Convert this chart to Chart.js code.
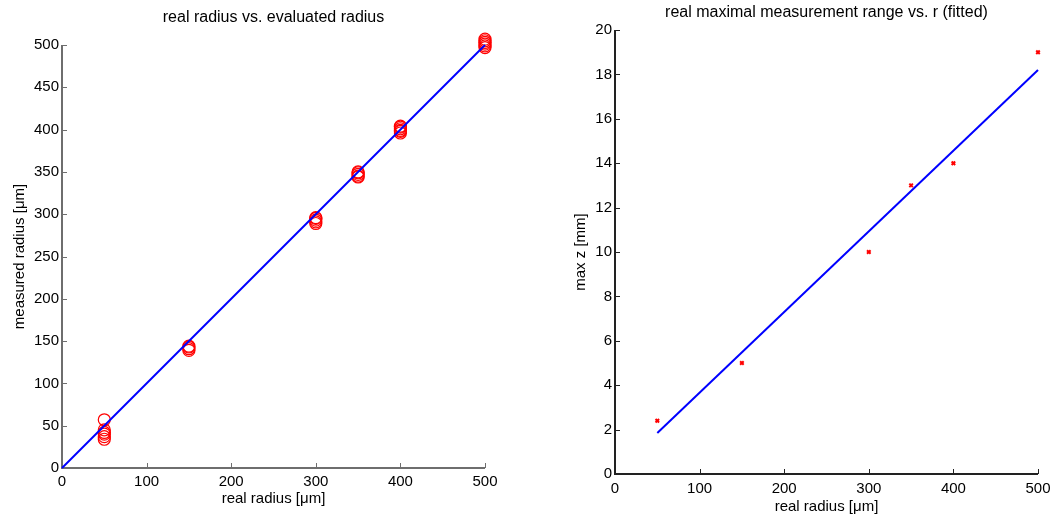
<!DOCTYPE html>
<html>
<head>
<meta charset="utf-8">
<script src="https://cdn.jsdelivr.net/npm/chart.js@4.4.1/dist/chart.umd.min.js"></script>
<style>
  body { margin: 0; background: #fff; }
  #wrap { position: relative; width: 1054px; height: 516px; }
  .box { position: absolute; top: 0; height: 516px; }
</style>
</head>
<body>
<div id="wrap">
  <div class="box" style="left:0;width:527px"><canvas id="c1"></canvas></div>
  <div class="box" style="left:527px;width:527px"><canvas id="c2"></canvas></div>
</div>
<script>
// ---- left: real radius vs. evaluated radius ----
const radX = [50, 50, 50, 50, 50, 50,
  150, 150, 150, 150,
  300, 300, 300, 300, 300,
  350, 350, 350, 350, 350,
  400, 400, 400, 400, 400, 400,
  500, 500, 500, 500, 500, 500, 500];
const radY = [57, 45, 42, 40, 37, 34,
  139, 141, 143, 144,
  289, 291, 293, 295, 296,
  344, 345, 347, 349, 350,
  396, 398, 399, 401, 403, 404,
  497, 499, 501, 503, 505, 507, 509];
const idealX = [0, 500];
const idealY = [0, 500];
const radTicks = [0, 50, 100, 150, 200, 250, 300, 350, 400, 450, 500];
const radXTicks = [0, 100, 200, 300, 400, 500];

// ---- right: max z vs r ----
const zX = [50, 150, 300, 350, 400, 500];
const zY = [2.4, 5, 10, 13, 14, 19];
const fitX = [50, 500];
const fitY = [1.85, 18.2];
const zTicks = [0, 2, 4, 6, 8, 10, 12, 14, 16, 18, 20];

const FONT = "'Liberation Sans', Arial, sans-serif";
Chart.defaults.font.family = FONT;
Chart.defaults.color = "#000";

function pts(xs, ys) { return xs.map((x, i) => ({ x, y: ys[i] })); }

// inward MATLAB-style ticks, axis lines and a title centred over the axes
const matlabAxes = {
  id: "matlabAxes",
  beforeDatasetsDraw(chart, args, opts) {
    const { ctx, chartArea: a, scales } = chart;
    ctx.save();
    ctx.strokeStyle = opts.color;
    ctx.lineWidth = 1;
    scales.x.ticks.forEach((t) => {
      const px = Math.round(scales.x.getPixelForValue(t.value)) + 0.5;
      ctx.beginPath(); ctx.moveTo(px, a.bottom); ctx.lineTo(px, a.bottom - 5); ctx.stroke();
    });
    scales.y.ticks.forEach((t) => {
      const py = Math.round(scales.y.getPixelForValue(t.value)) + 0.5;
      ctx.beginPath(); ctx.moveTo(a.left, py); ctx.lineTo(a.left + 5, py); ctx.stroke();
    });
    ctx.lineWidth = 2;
    ctx.beginPath();
    ctx.moveTo(a.left, a.top); ctx.lineTo(a.left, a.bottom); ctx.lineTo(a.right, a.bottom);
    ctx.stroke();

    ctx.fillStyle = "#000";
    ctx.font = `16px ${FONT}`;
    ctx.textAlign = "center";
    ctx.textBaseline = "middle";
    ctx.fillText(opts.title, (a.left + a.right) / 2, opts.titleY);
    ctx.restore();
  }
};

function makeChart(id, cfg) {
  return new Chart(document.getElementById(id), {
    type: "scatter",
    data: { datasets: cfg.datasets },
    options: {
      responsive: true,
      maintainAspectRatio: false,
      animation: false,
      layout: { padding: { top: cfg.padTop, right: cfg.padRight, left: 0, bottom: 0 } },
      plugins: {
        legend: { display: false },
        tooltip: { enabled: false },
        title: { display: false },
        matlabAxes: { color: cfg.axisColor, title: cfg.title, titleY: cfg.titleY }
      },
      scales: {
        x: {
          type: "linear", min: 0, max: 500,
          afterBuildTicks: (s) => { s.ticks = radXTicks.map((v) => ({ value: v })); },
          afterFit: (s) => { s.height = cfg.xHeight; s.paddingLeft = 0; s.paddingRight = 0; },
          grid: { display: false, drawTicks: false },
          border: { display: false },
          ticks: { font: { size: 15 }, padding: cfg.xTickPad, maxRotation: 0 },
          title: { display: true, text: "real radius [μm]", font: { size: 15 }, padding: { top: 0, bottom: cfg.xTitleBottom } }
        },
        y: {
          type: "linear", min: cfg.yMin, max: cfg.yMax,
          afterBuildTicks: (s) => { s.ticks = cfg.yTicks.map((v) => ({ value: v })); },
          afterFit: (s) => { s.width = cfg.yWidth; s.paddingTop = 0; s.paddingBottom = 0; },
          grid: { display: false, drawTicks: false },
          border: { display: false },
          ticks: { font: { size: 15 }, padding: 3 },
          title: { display: true, text: cfg.yTitle, font: { size: 15 }, padding: { top: cfg.yTitleTop, bottom: 0 } }
        }
      }
    },
    plugins: [matlabAxes]
  });
}

makeChart("c1", {
  title: "real radius vs. evaluated radius",
  titleY: 18,
  padTop: 45,
  padRight: 42,
  xHeight: 48,
  xTickPad: 5,
  xTitleBottom: 8,
  yWidth: 62,
  yTitleTop: 11,
  yMin: 0, yMax: 500, yTicks: radTicks,
  yTitle: "measured radius [μm]",
  axisColor: "#6e6e6e",
  datasets: [
    {
      data: pts(idealX, idealY), showLine: true, pointRadius: 0,
      borderColor: "#0000ff", borderWidth: 2, clip: false
    },
    {
      data: pts(radX, radY), showLine: false, pointStyle: "circle",
      pointRadius: 6, pointBorderWidth: 1.2, pointBorderColor: "#ff0000",
      pointBackgroundColor: "rgba(0,0,0,0)", clip: false
    }
  ]
});

makeChart("c2", {
  title: "real maximal measurement range vs. r (fitted)",
  titleY: 13,
  padTop: 30,
  padRight: 16,
  xHeight: 42,
  xTickPad: 6,
  xTitleBottom: 0,
  yWidth: 88,
  yTitleTop: 45,
  yMin: 0, yMax: 20, yTicks: zTicks,
  yTitle: "max z [mm]",
  axisColor: "#222",
  datasets: [
    {
      data: pts(fitX, fitY), showLine: true, pointRadius: 0,
      borderColor: "#0000ff", borderWidth: 2, clip: false
    },
    {
      data: pts(zX, zY), showLine: false, pointStyle: "crossRot",
      pointRadius: 2.5, pointBorderWidth: 2, pointBorderColor: "#ff0000", clip: false
    }
  ]
});
</script>
</body>
</html>
